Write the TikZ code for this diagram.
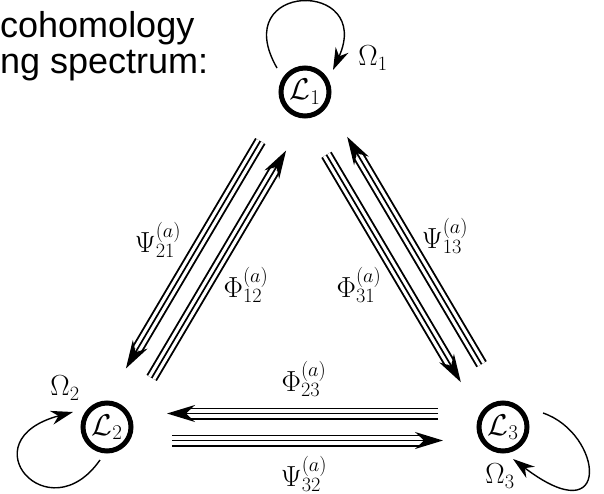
\RequirePackage{fix-cm}
\documentclass[tikz,border=0pt]{standalone}
\usepackage{fontspec}
\newfontfamily\arialf{Liberation Sans}
\usetikzlibrary{arrows.meta,calc}
\newcommand\triplearr[2]{%
  \coordinate (ta) at ($(#1.center)!13.5pt!-90:(#2.center)$);
  \coordinate (tb) at ($(#2.center)!13.5pt!90:(#1.center)$);
  \draw[triple] ($(ta)!65pt!(tb)$) -- ($(tb)!60pt!(ta)$);}
\begin{document}
\begin{tikzpicture}[x=1pt,y=1pt,
  lnode/.style={circle, draw, line width=5pt, minimum size=48pt, inner sep=0pt, font=\fontsize{30}{36}\selectfont},
  lab/.style={font=\fontsize{29}{34}\selectfont, inner sep=0pt},
  triple/.style={draw, line width=12pt, shorten >=22pt,
    postaction={draw, white, line width=8.2pt, shorten >=22pt},
    postaction={draw, black, line width=1.7pt, shorten >=0pt, -{Stealth[length=28pt,width=17pt,inset=9pt]}}},
  selfloop/.style={line width=1.4pt, -{Stealth[length=22pt,width=14pt,inset=7pt]}},
  heading/.style={font=\arialf\fontsize{36}{36}\selectfont, inner sep=0pt, anchor=base west}
]
\useasboundingbox (0,0) rectangle (604,-494);
\node[lnode] (L1) at (305,-92) {$\mathcal{L}_1$};
\node[lnode] (L2) at (107,-427) {$\mathcal{L}_2$};
\node[lnode] (L3) at (503,-427) {$\mathcal{L}_3$};

\triplearr{L1}{L2}
\triplearr{L2}{L1}
\triplearr{L1}{L3}
\triplearr{L3}{L1}
\triplearr{L3}{L2}
\triplearr{L2}{L3}

\node[lab] (psi21) at (158,-240) {$\Psi_{21}^{(a)}$};
\node[lab] (phi12) at (246,-285) {$\Phi_{12}^{(a)}$};
\node[lab] (phi31) at (359,-285) {$\Phi_{31}^{(a)}$};
\node[lab] (psi13) at (445,-236) {$\Psi_{13}^{(a)}$};
\node[lab] (phi23) at (304,-379) {$\Phi_{23}^{(a)}$};
\node[lab] (psi32) at (304,-474) {$\Psi_{32}^{(a)}$};
\node[lab] (om1) at (373,-58) {$\Omega_1$};
\node[lab] (om2) at (65,-388) {$\Omega_2$};
\node[lab] (om3) at (500,-476) {$\Omega_3$};

\draw[selfloop] ($(L1.center)+(-28,24)$) .. controls ($(L1.center)+(-78,111)$) and ($(L1.center)+(69,113)$) .. ($(L1.center)+(28,22)$);
\draw[selfloop] ($(L2.center)+(-7,-33)$) .. controls ($(L2.center)+(-58.6,-106.7)$) and ($(L2.center)+(-140.3,-13.5)$) .. ($(L2.center)+(-34,15)$);
\draw[selfloop] ($(L3.center)+(40,14)$) .. controls ($(L3.center)+(100,-6.5)$) and ($(L3.center)+(110,-108)$) .. ($(L3.center)+(10,-32)$);

\node[heading] (t1) at (0,-38) {cohomology};
\node[heading] (t2) at (0,-74) {ng spectrum:};
\end{tikzpicture}
\end{document}
